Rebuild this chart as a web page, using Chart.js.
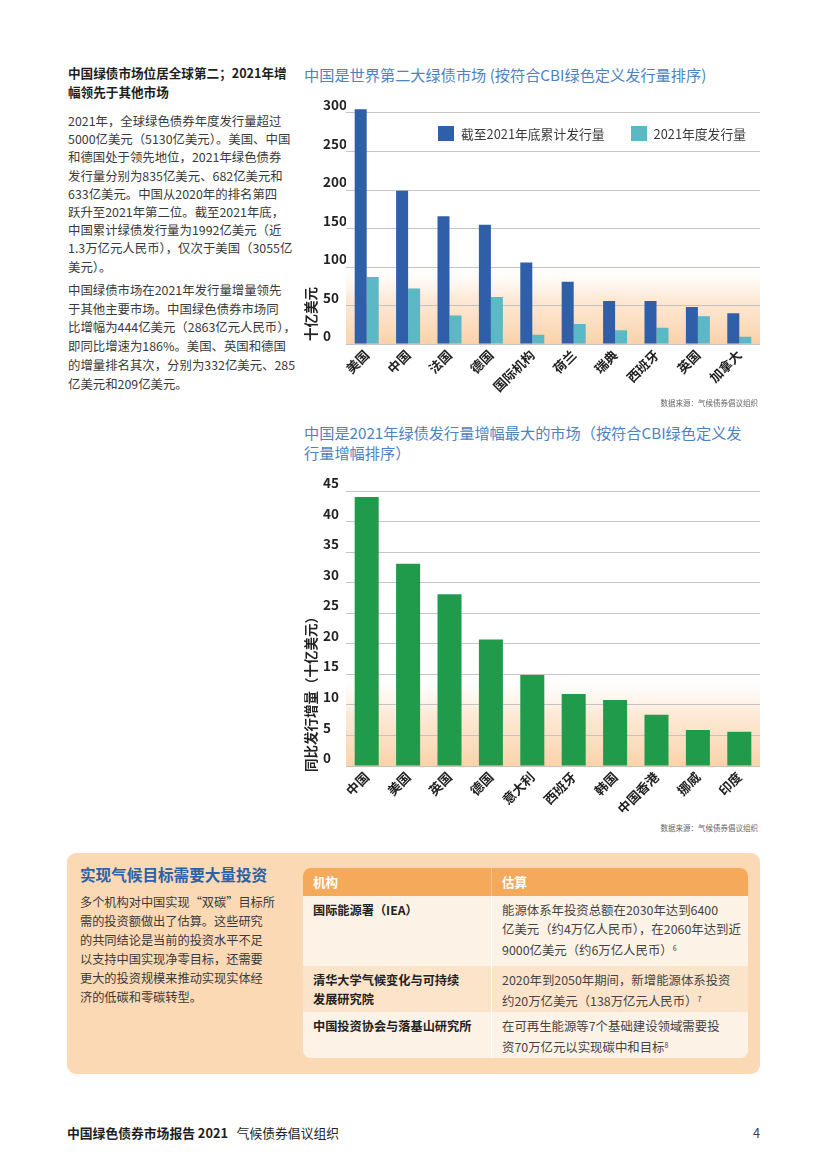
<!DOCTYPE html>
<html lang="zh">
<head>
<meta charset="utf-8">
<title>中国绿色债券市场报告 2021</title>
<script src="https://cdn.jsdelivr.net/npm/chart.js@4.4.0/dist/chart.umd.min.js"></script>
<style>
  html, body { margin: 0; padding: 0; background: #fff; }
  body {
    width: 827px; height: 1169px; position: relative; overflow: hidden;
    font-family: 'Noto Sans CJK SC', 'Noto Sans', sans-serif; color: #333;
  }
  .abs { position: absolute; white-space: nowrap; }
  .lead { left: 68px; font-size: 12.6px; font-weight: 700; line-height: 18.6px; color: #1e1e1e; }
  .body { left: 68px; font-size: 12.4px; line-height: 18.2px; color: #3a3a3a; }
  .ctitle { left: 304px; font-size: 15.2px; line-height: 19.5px; color: #4f82c2; }
  .source { font-size: 7.5px; color: #666; }
  .ytitle { font-size: 13.5px; font-weight: 700; color: #222; transform: translate(-50%, -50%) rotate(-90deg); }
  canvas { position: absolute; }
  .legend { top: 124px; left: 438px; font-size: 12.8px; color: #3a3a3a; display: flex; align-items: center; }
  .legend span.box { display: inline-block; width: 16px; height: 15px; margin-right: 7px; }
  .legend span.item { display: inline-flex; align-items: center; margin-right: 26px; }
  .panel { left: 67px; top: 853px; width: 693px; height: 221px; background: #fcd9b5; border-radius: 9px; }
  .panel h3 { position: absolute; left: 13px; top: 10px; margin: 0; font-size: 15.6px; color: #2c62a7; font-weight: 700; }
  .panel .txt { position: absolute; left: 13px; top: 40px; font-size: 12.2px; line-height: 19px; color: #3a3a3a; white-space: nowrap; }
  .tbl { left: 303px; top: 868px; width: 445px; border-radius: 8px; overflow: hidden; background: #fdf2e6; }
  .row { display: flex; }
  .row > div { box-sizing: border-box; padding: 5px 0 0 10px; line-height: 19px; white-space: nowrap; }
  .row > div:first-child { width: 189px; border-right: 1px solid #fff; font-weight: 700; font-size: 12.2px; color: #222; }
  .row > div:last-child { width: 256px; font-size: 12.4px; color: #444; }
  .row.head { height: 28px; background: #f5a95b; }
  .row.head > div { color: #fff !important; font-weight: 700; font-size: 12.6px; padding-top: 4px; border-right-color: #f8c28a; }
  .row.r1 { height: 70px; background: #fdf2e6; }
  .row.r2 { height: 46px; background: #fce4cb; }
  .row.r3 { height: 46px; background: #fdf2e6; }
  sup { font-size: 7px; vertical-align: 4px; }
  .foot { top: 1123px; left: 67px; font-size: 12.8px; color: #1e1e1e; }
</style>
</head>
<body>

<div class="abs lead" style="top:64px;">中国绿债市场位居全球第二；2021年增<br>幅领先于其他市场</div>
<div class="abs body" style="top:112px;">2021年，全球绿色债券年度发行量超过<br>5000亿美元（5130亿美元）。美国、中国<br>和德国处于领先地位，2021年绿色债券<br>发行量分别为835亿美元、682亿美元和<br>633亿美元。中国从2020年的排名第四<br>跃升至2021年第二位。截至2021年底，<br>中国累计绿债发行量为1992亿美元（近<br>1.3万亿元人民币），仅次于美国（3055亿<br>美元）。</div>
<div class="abs body" style="top:281px; line-height:18.7px;">中国绿债市场在2021年发行量增量领先<br>于其他主要市场。中国绿色债券市场同<br>比增幅为444亿美元（2863亿元人民币），<br>即同比增速为186%。美国、英国和德国<br>的增量排名其次，分别为332亿美元、285<br>亿美元和209亿美元。</div>

<div class="abs ctitle" style="top:65px;">中国是世界第二大绿债市场 (按符合CBI绿色定义发行量排序)</div>
<canvas id="volumeChart" width="470" height="305" style="left:300px; top:95px;"></canvas>
<div class="abs legend" id="volumeLegend"></div>
<div class="abs ytitle" style="left:310px; top:314px;">十亿美元</div>
<div class="abs source" style="right:69px; top:397px;">数据来源：气候债券倡议组织</div>

<div class="abs ctitle" style="top:423px;">中国是2021年绿债发行量增幅最大的市场（按符合CBI绿色定义发<br>行量增幅排序）</div>
<canvas id="growthChart" width="470" height="350" style="left:300px; top:470px;"></canvas>
<div class="abs ytitle" style="left:310px; top:691px;">同比发行增量（十亿美元）</div>
<div class="abs source" style="right:69px; top:822px;">数据来源：气候债券倡议组织</div>

<div class="abs panel">
  <h3>实现气候目标需要大量投资</h3>
  <div class="txt">多个机构对中国实现“双碳”目标所<br>需的投资额做出了估算。这些研究<br>的共同结论是当前的投资水平不足<br>以支持中国实现净零目标，还需要<br>更大的投资规模来推动实现实体经<br>济的低碳和零碳转型。</div>
</div>
<div class="abs tbl">
  <div class="row head"><div>机构</div><div>估算</div></div>
  <div class="row r1"><div>国际能源署（IEA）</div><div>能源体系年投资总额在2030年达到6400<br>亿美元（约4万亿人民币），在2060年达到近<br>9000亿美元（约6万亿人民币）<sup>6</sup></div></div>
  <div class="row r2"><div>清华大学气候变化与可持续<br>发展研究院</div><div>2020年到2050年期间，新增能源体系投资<br>约20万亿美元（138万亿元人民币）<sup>7</sup></div></div>
  <div class="row r3"><div>中国投资协会与落基山研究所</div><div>在可再生能源等7个基础建设领域需要投<br>资70万亿元以实现碳中和目标<sup>8</sup></div></div>
</div>

<div class="abs foot"><b>中国绿色债券市场报告 2021</b>&nbsp;&nbsp;&nbsp;气候债券倡议组织</div>
<div class="abs foot" style="left:753px; color:#444;">4</div>

<script>
// ===== DATA =====
const volumeMarkets = ['美国', '中国', '法国', '德国', '国际机构', '荷兰', '瑞典', '西班牙', '英国', '加拿大'];
const cumulativeIssuance = [305, 199, 166, 155, 106, 81, 56, 56, 48, 40];
const annualIssuance2021 = [87, 72, 37, 61, 12, 26, 18, 21, 36, 9.5];
const volumeTicks = [0, 50, 100, 150, 200, 250, 300];

const growthMarkets = ['中国', '美国', '英国', '德国', '意大利', '西班牙', '韩国', '中国香港', '挪威', '印度'];
const growthValues = [44, 33.1, 28.1, 20.7, 14.9, 11.8, 10.8, 8.4, 5.9, 5.6];
const growthTicks = [0, 5, 10, 15, 20, 25, 30, 35, 40, 45];

// ===== COLORS =====
const COLORS = {
  navy: '#2e5fa8',
  teal: '#5bb8c5',
  green: '#1f9b4b',
  grid: '#c4c4c4',
  text: '#222',
  peach: '#fbd2a9',
};
const FONT = "'Noto Sans CJK SC', 'Noto Sans', sans-serif";

// peach wash at the foot of the plot, fading out at a given value
const peachBackdrop = {
  id: 'peachBackdrop',
  beforeDraw(chart, args, opts) {
    const { ctx, chartArea: a, scales: { y } } = chart;
    const top = y.getPixelForValue(opts.fadeTo);
    const g = ctx.createLinearGradient(0, a.bottom, 0, top);
    g.addColorStop(0, COLORS.peach);
    g.addColorStop(0.55, 'rgba(252, 226, 200, 0.75)');
    g.addColorStop(1, 'rgba(255, 255, 255, 0)');
    ctx.save();
    ctx.fillStyle = g;
    ctx.fillRect(a.left, top, a.width, a.bottom - top);
    ctx.restore();
  },
};

function axes(maxValue, ticks, xHeight) {
  return {
    x: {
      grid: { display: false, drawTicks: false },
      border: { display: false },
      afterFit: (scale) => { scale.height = xHeight; },
      ticks: {
        autoSkip: false,
        minRotation: 45,
        maxRotation: 45,
        padding: 3,
        color: COLORS.text,
        font: { family: FONT, size: 13, weight: 'bold' },
      },
    },
    y: {
      min: 0,
      max: maxValue,
      afterBuildTicks: (scale) => { scale.ticks = ticks.map((v) => ({ value: v })); },
      afterFit: (scale) => { scale.width = 23; },
      grid: { color: COLORS.grid, lineWidth: 1, drawTicks: false },
      border: { display: false },
      ticks: {
        crossAlign: 'far',
        padding: 0,
        labelOffset: -8,
        color: COLORS.text,
        font: { family: FONT, size: 13.5, weight: 'bold' },
      },
    },
  };
}

const sharedDefaults = {
  responsive: false,
  animation: false,
  events: [],
};

// ===== CUMULATIVE VS 2021 ISSUANCE =====
const volumeChart = new Chart(document.getElementById('volumeChart'), {
  type: 'bar',
  data: {
    labels: volumeMarkets,
    datasets: [
      {
        label: '截至2021年底累计发行量',
        data: cumulativeIssuance,
        backgroundColor: COLORS.navy,
        categoryPercentage: 0.58,
        barPercentage: 1,
      },
      {
        label: '2021年度发行量',
        data: annualIssuance2021,
        backgroundColor: COLORS.teal,
        categoryPercentage: 0.58,
        barPercentage: 1,
      },
    ],
  },
  options: {
    ...sharedDefaults,
    layout: { padding: { left: 23, right: 10, top: 10.3, bottom: 0 } },
    scales: axes(310, volumeTicks, 56),
    plugins: {
      legend: { display: false },
      tooltip: { enabled: false },
      peachBackdrop: { fadeTo: 108 },
    },
  },
  plugins: [peachBackdrop],
});

// html legend built from the datasets
const legendEl = document.getElementById('volumeLegend');
volumeChart.data.datasets.forEach((ds) => {
  const item = document.createElement('span');
  item.className = 'item';
  item.innerHTML = `<span class="box" style="background:${ds.backgroundColor}"></span>${ds.label}`;
  legendEl.appendChild(item);
});

// ===== YEAR-ON-YEAR GROWTH =====
new Chart(document.getElementById('growthChart'), {
  type: 'bar',
  data: {
    labels: growthMarkets,
    datasets: [
      {
        label: '同比发行增量',
        data: growthValues,
        backgroundColor: COLORS.green,
        categoryPercentage: 0.58,
        barPercentage: 1,
      },
    ],
  },
  options: {
    ...sharedDefaults,
    layout: { padding: { left: 23, right: 10, top: 21, bottom: 0 } },
    scales: axes(45, growthTicks, 54),
    plugins: {
      legend: { display: false },
      tooltip: { enabled: false },
      peachBackdrop: { fadeTo: 15.5 },
    },
  },
  plugins: [peachBackdrop],
});
</script>
</body>
</html>
